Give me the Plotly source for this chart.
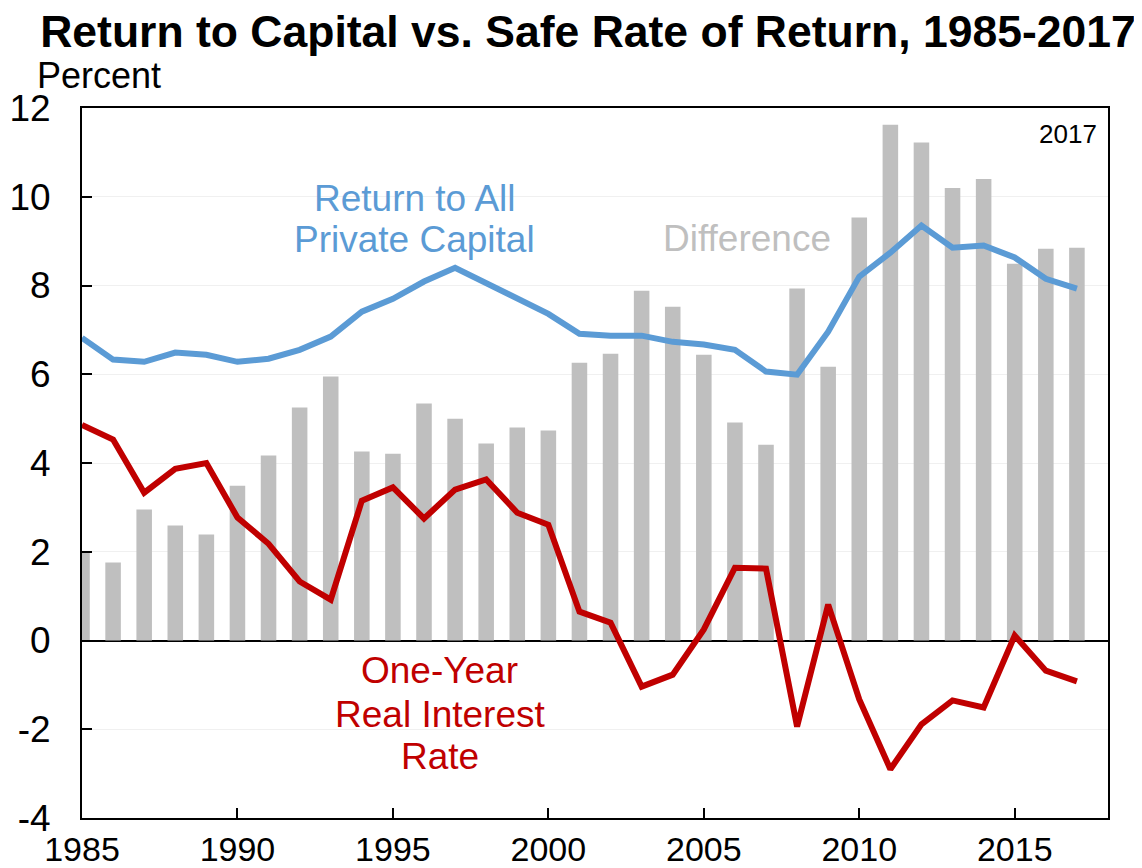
import plotly.graph_objects as go

years = list(range(1985, 2018))

return_private_capital = [6.82, 6.33, 6.28, 6.49, 6.44, 6.28, 6.35, 6.55, 6.85, 7.41,
                          7.70, 8.09, 8.40, 8.06, 7.70, 7.36, 6.91, 6.87, 6.87, 6.73,
                          6.67, 6.55, 6.06, 5.99, 6.96, 8.20, 8.74, 9.35, 8.85, 8.90,
                          8.63, 8.15, 7.93]

real_interest_rate = [4.86, 4.53, 3.33, 3.87, 4.00, 2.77, 2.18, 1.33, 0.92, 3.15,
                      3.45, 2.75, 3.40, 3.63, 2.88, 2.61, 0.65, 0.40, -1.04, -0.77,
                      0.25, 1.64, 1.62, -1.94, 0.81, -1.33, -2.90, -1.89, -1.35, -1.51,
                      0.11, -0.68, -0.92]

difference = [1.98, 1.76, 2.95, 2.59, 2.39, 3.49, 4.17, 5.25, 5.95, 4.26,
              4.21, 5.34, 5.00, 4.44, 4.80, 4.73, 6.26, 6.46, 7.88, 7.52,
              6.44, 4.91, 4.41, 7.93, 6.17, 9.53, 11.62, 11.22, 10.20, 10.40,
              8.49, 8.83, 8.85]

x_ticks = [1985, 1990, 1995, 2000, 2005, 2010, 2015]
y_ticks = [-4, -2, 0, 2, 4, 6, 8, 10, 12]
y_tick_labels = ["-4", "-2", "0", "2", "4", "6", "8", "10", "12"]

FONT = "Liberation Sans, Arial, sans-serif"
BLUE = "#5B9BD5"
RED = "#C00000"
GRAY = "#BFBFBF"

W, H = 1134, 860  # page body has an 8px margin

fig = go.Figure()
fig.add_trace(go.Bar(x=years, y=difference, width=0.5, marker=dict(color=GRAY, line=dict(width=0)),
                     name="Difference"))
fig.add_trace(go.Scatter(x=years, y=return_private_capital, mode="lines",
                         line=dict(color=BLUE, width=6), name="Return to All Private Capital"))
fig.add_trace(go.Scatter(x=years, y=real_interest_rate, mode="lines",
                         line=dict(color=RED, width=6), name="One-Year Real Interest Rate"))

fig.update_layout(
    width=W, height=H,
    margin=dict(l=74, r=34, t=100, b=50, autoexpand=False),
    paper_bgcolor="white", plot_bgcolor="white",
    showlegend=False,
    font=dict(family=FONT, size=36, color="black"),
    title=dict(text="<b>Return to Capital vs. Safe Rate of Return, 1985-2017</b>",
               font=dict(family=FONT, size=44.5, color="black"),
               xref="container", yref="container", x=580/W, y=1-23/H,
               xanchor="center", yanchor="middle"),
)

fig.update_xaxes(range=[1985, 2018], tickvals=x_ticks, ticks="inside", ticklen=10,
                 tickwidth=2, tickcolor="black", showline=True, linecolor="black",
                 linewidth=2, mirror=True, showgrid=False, zeroline=False,
                 automargin=False, ticklabelstandoff=0, tickfont=dict(size=34))
fig.update_yaxes(range=[-4, 12], tickvals=y_ticks, ticktext=y_tick_labels, ticks="inside", ticklen=10,
                 tickwidth=2, tickcolor="black", showline=True, linecolor="black",
                 linewidth=2, mirror=True, showgrid=True, gridcolor="#F0F0F0", gridwidth=1,
                 zeroline=True, zerolinecolor="black", zerolinewidth=2,
                 automargin=False, ticklabelstandoff=22, tickfont=dict(size=37))

ann = [
    dict(text="Return to All", x=1995.7, y=9.95, xanchor="center", color=BLUE, size=37),
    dict(text="Private Capital", x=1995.7, y=9.03, xanchor="center", color=BLUE, size=37),
    dict(text="Difference", x=2006.4, y=9.05, xanchor="center", color=GRAY, size=37),
    dict(text="One-Year", x=1996.5, y=-0.68, xanchor="center", color=RED, size=37),
    dict(text="Real Interest", x=1996.5, y=-1.67, xanchor="center", color=RED, size=37),
    dict(text="Rate", x=1996.5, y=-2.61, xanchor="center", color=RED, size=37),
    dict(text="2017", x=2017.7, y=11.42, xanchor="right", color="black", size=26),
]
for a in ann:
    fig.add_annotation(text=a["text"], x=a["x"], y=a["y"], xref="x", yref="y",
                       showarrow=False, xanchor=a["xanchor"], yanchor="middle",
                       font=dict(family=FONT, size=a["size"], color=a["color"]))

fig.add_annotation(text="Percent", x=(35-82)/1026, y=(818-75)/710, xref="paper", yref="paper",
                   showarrow=False, xanchor="left", yanchor="middle",
                   font=dict(family=FONT, size=36, color="black"))

fig.write_html("out.html")
